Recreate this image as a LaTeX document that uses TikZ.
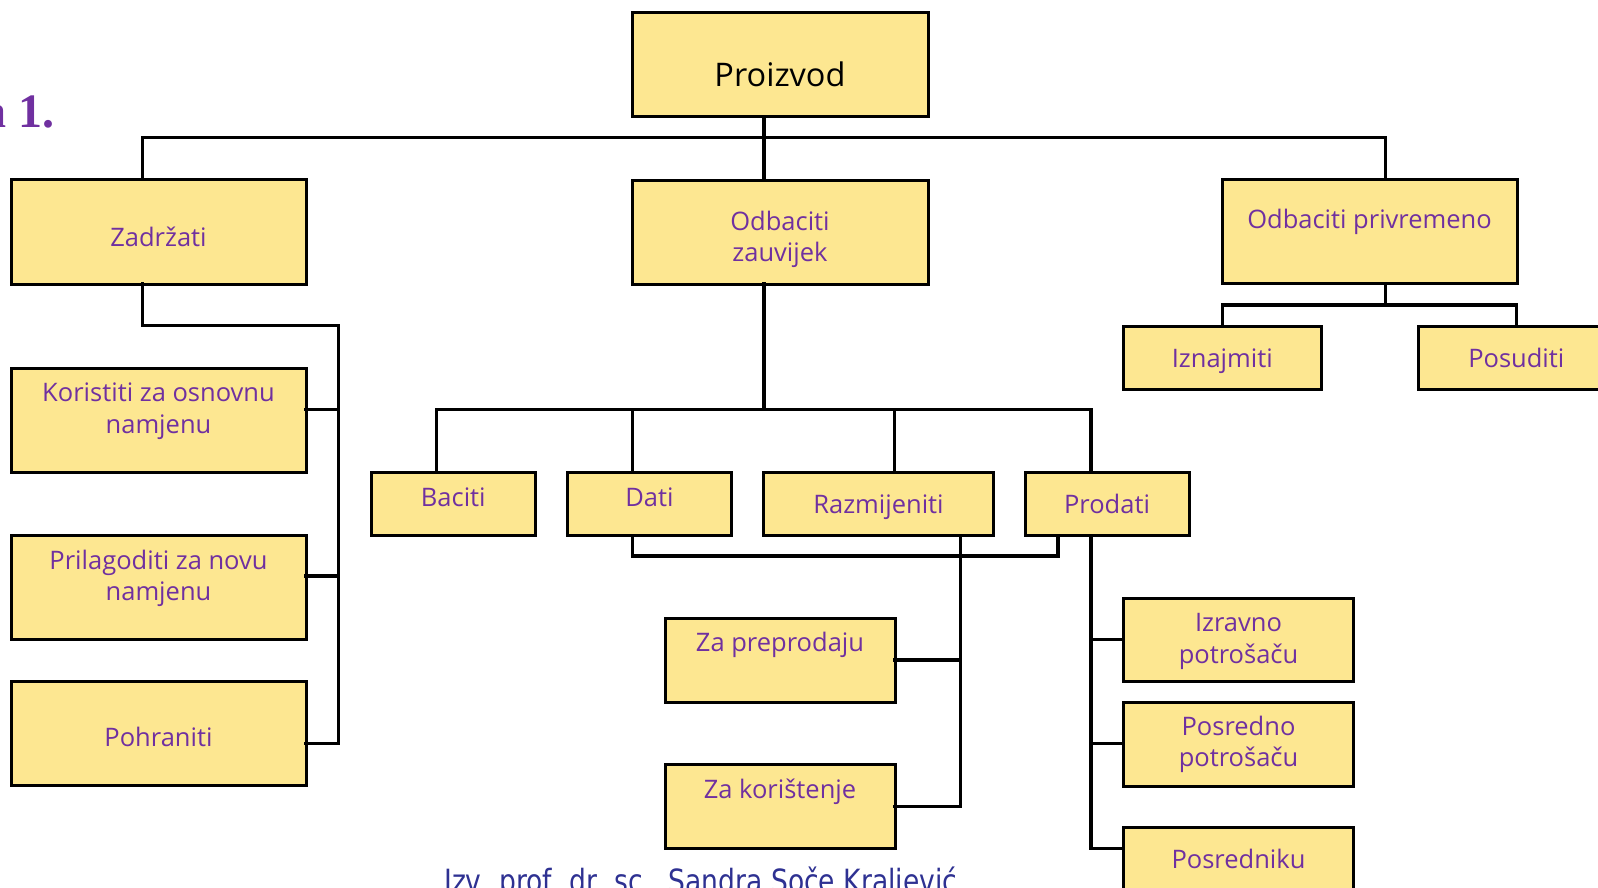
\documentclass[tikz,border=0pt]{standalone}
\usepackage{fontspec}
\setmainfont{Open Sans}
\newfontfamily\titlefont{Liberation Serif}
\newfontfamily\creditfont[FakeStretch=0.83]{DejaVu Sans}
\definecolor{boxfill}{RGB}{253,231,145}
\definecolor{labpurple}{RGB}{112,48,160}
\definecolor{creditblue}{RGB}{46,49,146}
\tikzset{
  box/.style={draw=black, line width=3pt, fill=boxfill, inner sep=0, outer sep=0},
  txt/.style={inner sep=0, anchor=base, text=labpurple, align=center,
              font=\fontsize{25.5}{31.7}\selectfont},
  conn/.style={draw=black, line width=3.3pt, line cap=rect}
}
% box from its left, top, right and bottom edges
\newcommand\bx[5]{\node[box, minimum width={#4-#2}, minimum height={#5-#3}]
  (#1) at ({(#2+#4)/2},{(#3+#5)/2}) {};}
\begin{document}
\begin{tikzpicture}[x=1pt, y=-1pt]
\useasboundingbox (0,0) rectangle (1598,887);

% junction points of the connector tree
\coordinate (t1) at (142.3,137.3);
\coordinate (t2) at (764,137.3);
\coordinate (t3) at (1385.7,137.3);
\coordinate (l1) at (142.3,325.7);
\coordinate (l2) at (338.3,325.7);
\coordinate (b1) at (338.3,409.3);
\coordinate (b2) at (338.3,576);
\coordinate (b3) at (338.3,743.3);
\coordinate (m0) at (764,409.3);
\coordinate (m1) at (436.6,409.3);
\coordinate (m2) at (632.4,409.3);
\coordinate (m3) at (894.2,409.3);
\coordinate (m4) at (1091,409.3);
\coordinate (d1) at (632.4,556);
\coordinate (d2) at (1058,556);
\coordinate (r1) at (960.3,660);
\coordinate (r2) at (960.3,806.3);
\coordinate (p1) at (1091,639.3);
\coordinate (p2) at (1091,743.3);
\coordinate (p3) at (1091,848.3);
\coordinate (o1) at (1385.7,305);
\coordinate (o2) at (1222.3,305);
\coordinate (o3) at (1516.3,305);

% boxes
\bx{prz}{632}{12.5}{928}{116.5}
\bx{zad}{11}{179}{306}{284}
\bx{ozv}{632}{180}{928}{284}
\bx{opr}{1222}{179.5}{1517}{283.5}
\bx{izn}{1123.5}{326}{1321}{389.5}
\bx{pos}{1418}{326}{1615}{389.5}
\bx{kor}{11}{368}{306}{472}
\bx{pri}{11}{535}{306}{639.5}
\bx{poh}{11}{681}{306}{785}
\bx{bac}{371}{472}{535.5}{535.5}
\bx{dat}{567.5}{472}{731.5}{535.5}
\bx{raz}{763.5}{472}{993.5}{535.5}
\bx{pro}{1025}{472}{1189}{535.5}
\bx{zpp}{665}{618.5}{895}{702.5}
\bx{zko}{665}{764.5}{895}{848.5}
\bx{izr}{1123.5}{598}{1353.5}{681}
\bx{psr}{1123.5}{702}{1353.5}{786}
\bx{pnk}{1123.5}{827.5}{1353.5}{911}

% labels (two-line labels sit on the baseline of their last line)
\node[txt, text=black, font=\fontsize{32.5}{36}\selectfont] (prz-t) at (780,86.7) {Proizvod};
\node[txt] (zad-t) at (158.5,246) {Zadržati};
\node[txt] (ozv-t) at (780,261.7) {Odbaciti\\zauvijek};
\node[txt] (opr-t) at (1369.5,228.3) {Odbaciti privremeno};
\node[txt] (izn-t) at (1222.3,367.3) {Iznajmiti};
\node[txt] (pos-t) at (1516.3,367) {Posuditi};
\node[txt] (kor-t) at (158.5,433.3) {Koristiti za osnovnu\\namjenu};
\node[txt] (pri-t) at (158.5,600.7) {Prilagoditi za novu\\namjenu};
\node[txt] (poh-t) at (158.5,746.7) {Pohraniti};
\node[txt] (bac-t) at (453.3,506.7) {Baciti};
\node[txt] (dat-t) at (649.5,506.7) {Dati};
\node[txt] (raz-t) at (878.5,513.3) {Razmijeniti};
\node[txt] (pro-t) at (1107,513.3) {Prodati};
\node[txt] (zpp-t) at (780,651.7) {Za preprodaju};
\node[txt] (zko-t) at (780,798) {Za korištenje};
\node[txt] (izr-t) at (1238.5,663.3) {Izravno\\potrošaču};
\node[txt] (psr-t) at (1238.5,766.7) {Posredno\\potrošaču};
\node[txt] (pnk-t) at (1238.5,868.3) {Posredniku};

% connectors
\draw[conn] (prz.south -| t2) -- (ozv.north -| t2);
\draw[conn] (zad.north -| t1) -- (t1) -- (t3) -- (opr.north -| t3);
\draw[conn] (zad.south -| l1) -- (l1) -- (l2) -- (b3) -- (poh.east |- b3);
\draw[conn] (kor.east |- b1) -- (b1);
\draw[conn] (pri.east |- b2) -- (b2);
\draw[conn] (ozv.south -| m0) -- (m0);
\draw[conn] (bac.north -| m1) -- (m1) -- (m4) -- (pro.north -| m4);
\draw[conn] (dat.north -| m2) -- (m2);
\draw[conn] (raz.north -| m3) -- (m3);
\draw[conn] (dat.south -| d1) -- (d1) -- (d2) -- (pro.south -| d2);
\draw[conn] (raz.south -| r2) -- (r2) -- (zko.east |- r2);
\draw[conn] (zpp.east |- r1) -- (r1);
\draw[conn] (pro.south -| p3) -- (p3) -- (pnk.west |- p3);
\draw[conn] (izr.west |- p1) -- (p1);
\draw[conn] (psr.west |- p2) -- (p2);
\draw[conn] (opr.south -| o1) -- (o1);
\draw[conn] (izn.north -| o2) -- (o2) -- (o3) -- (pos.north -| o3);

% heading fragment and author line
\node[anchor=base east, inner sep=0, text=labpurple,
      font=\titlefont\bfseries\fontsize{48}{50}\selectfont] (ttl) at (55,127.7) {a 1.};
\node[anchor=base west, inner sep=0, text=creditblue,
      font=\creditfont\fontsize{32}{34}\selectfont] (crd) at (444,892.6)
      {Izv. prof. dr. sc.\ \ Sandra Soče Kraljević};
\end{tikzpicture}
\end{document}
